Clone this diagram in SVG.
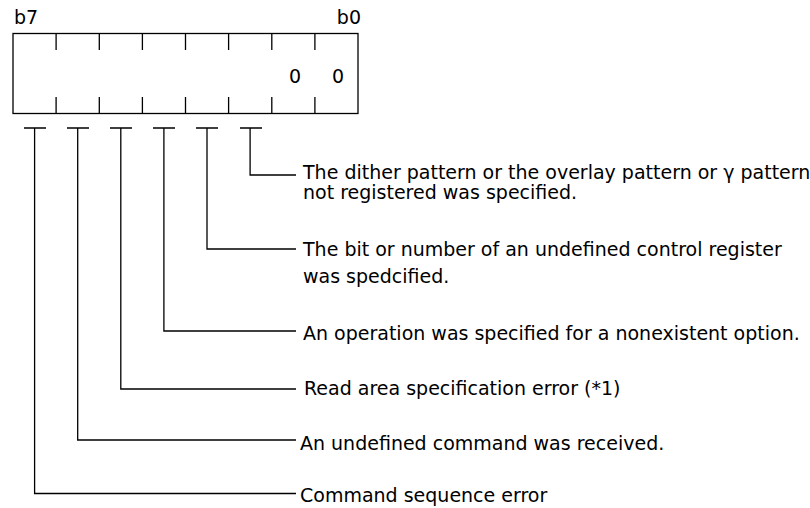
<svg xmlns="http://www.w3.org/2000/svg" width="810" height="508" viewBox="0 0 810 508">
<style>
  .ln{stroke:#000;stroke-width:1.3;fill:none}
  .t{font-family:"DejaVu Sans","Liberation Sans",sans-serif;font-size:19px;fill:#000}
</style>
<rect width="810" height="508" fill="#fff"/>
<g id="register">
  <text class="t" x="14" y="24">b7</text>
  <text class="t" x="361" y="24" text-anchor="end">b0</text>
  <rect class="ln" x="13" y="33.5" width="345" height="80"/>
  <path class="ln" d="M56.1 33.5V50M99.3 33.5V50M142.4 33.5V50M185.5 33.5V50M228.6 33.5V50M271.8 33.5V50M314.9 33.5V50M56.1 97V113.5M99.3 97V113.5M142.4 97V113.5M185.5 97V113.5M228.6 97V113.5M271.8 97V113.5M314.9 97V113.5"/>
  <text class="t" x="295" y="83" text-anchor="middle">0</text>
  <text class="t" x="338" y="83" text-anchor="middle">0</text>
</g>
<g id="connectors">
  <path class="ln" d="M24 128H46M34.6 128V493.5H296"/>
  <path class="ln" d="M67 128H89M77.7 128V440H296"/>
  <path class="ln" d="M110 128H132M120.8 128V389H296"/>
  <path class="ln" d="M153 128H175M163.9 128V331H296"/>
  <path class="ln" d="M196 128H218M207 128V249H296"/>
  <path class="ln" d="M240 128H262M250.1 128V175H296"/>
</g>
<g id="label-b2">
  <text class="t" x="303" y="179">The dither pattern or the overlay pattern or γ pattern</text>
  <text class="t" x="303" y="199">not registered was specified.</text>
</g>
<g id="label-b3">
  <text class="t" x="303" y="256">The bit or number of an undefined control register</text>
  <text class="t" x="303" y="283">was spedcified.</text>
</g>
<g id="label-b4"><text class="t" x="303" y="340">An operation was specified for a nonexistent option.</text></g>
<g id="label-b5"><text class="t" x="304" y="395">Read area specification error (*1)</text></g>
<g id="label-b6"><text class="t" x="300" y="450">An undefined command was received.</text></g>
<g id="label-b7"><text class="t" x="300" y="502">Command sequence error</text></g>
</svg>
